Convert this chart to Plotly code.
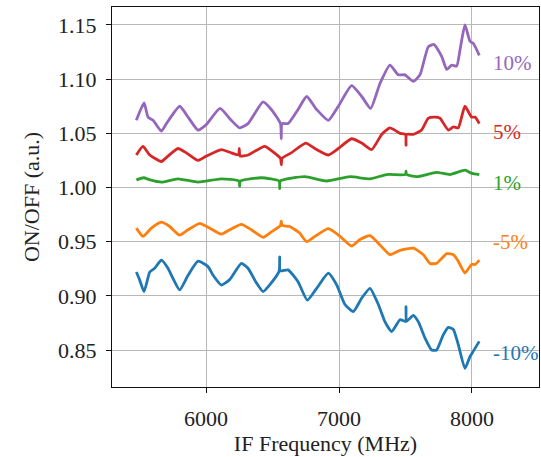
import plotly.graph_objects as go

# IF frequency (MHz) and ON/OFF ratio for each modulation level
freq_p10 = [5476, 5534, 5564, 5602, 5664, 5702, 5802, 5865, 5940, 6002, 6105, 6190,
            6253, 6316, 6429, 6491, 6560, 6566, 6572, 6617, 6692, 6757, 6832, 6920,
            6995, 7095, 7171, 7238, 7308, 7383, 7446, 7496, 7559, 7609, 7672, 7714,
            7772, 7810, 7847, 7885, 7910, 7947, 7985, 8010, 8055]
onoff_p10 = [1.062, 1.078, 1.065, 1.062, 1.052, 1.059, 1.075, 1.065, 1.053, 1.058, 1.073, 1.062,
             1.055, 1.059, 1.079, 1.072, 1.059, 1.045, 1.059, 1.059, 1.072, 1.084, 1.072, 1.062,
             1.075, 1.094, 1.084, 1.073, 1.096, 1.113, 1.104, 1.104, 1.098, 1.104, 1.130, 1.132,
             1.121, 1.109, 1.113, 1.112, 1.127, 1.150, 1.135, 1.133, 1.122]

freq_p5 = [5476, 5526, 5577, 5664, 5714, 5789, 5852, 5940, 6002, 6115, 6190, 6245,
           6250, 6256, 6316, 6441, 6504, 6560, 6566, 6572, 6641, 6750, 6832, 6920,
           6995, 7095, 7171, 7246, 7321, 7383, 7459, 7500, 7504, 7508, 7559, 7621,
           7672, 7722, 7759, 7822, 7860, 7897, 7947, 7997, 8023, 8055]
onoff_p5 = [1.030, 1.038, 1.030, 1.024, 1.029, 1.036, 1.032, 1.025, 1.029, 1.035, 1.032, 1.030,
            1.036, 1.029, 1.030, 1.038, 1.033, 1.027, 1.021, 1.027, 1.032, 1.041, 1.035, 1.030,
            1.036, 1.045, 1.041, 1.035, 1.049, 1.055, 1.050, 1.049, 1.039, 1.049, 1.049, 1.053,
            1.064, 1.065, 1.064, 1.053, 1.056, 1.055, 1.075, 1.065, 1.065, 1.059]

freq_p1 = [5476, 5530, 5580, 5664, 5789, 5940, 6115, 6248, 6253, 6258, 6416, 6550,
           6554, 6558, 6742, 6907, 7083, 7233, 7359, 7500, 7504, 7508, 7584, 7734,
           7835, 7947, 8000, 8055]
onoff_p1 = [1.007, 1.009, 1.007, 1.005, 1.008, 1.005, 1.008, 1.006, 1.001, 1.006, 1.009, 1.006,
            0.999, 1.006, 1.010, 1.006, 1.010, 1.008, 1.012, 1.012, 1.015, 1.012, 1.010, 1.014,
            1.012, 1.016, 1.013, 1.012]

freq_m5 = [5476, 5526, 5589, 5664, 5727, 5802, 5865, 5953, 6028, 6115, 6178, 6266,
           6341, 6429, 6491, 6560, 6566, 6572, 6629, 6704, 6757, 6832, 6920, 7008,
           7095, 7158, 7233, 7308, 7383, 7459, 7559, 7634, 7684, 7734, 7810, 7860,
           7897, 7947, 7997, 8023, 8055]
onoff_m5 = [0.9625, 0.955, 0.9625, 0.968, 0.964, 0.956, 0.961, 0.967, 0.9625, 0.957, 0.961, 0.966,
            0.961, 0.954, 0.959, 0.965, 0.969, 0.965, 0.964, 0.958, 0.950, 0.956, 0.962, 0.955,
            0.946, 0.952, 0.9556, 0.947, 0.938, 0.942, 0.944, 0.938, 0.930, 0.930, 0.939, 0.938,
            0.932, 0.921, 0.929, 0.929, 0.933]

freq_m10 = [5476, 5500, 5534, 5577, 5614, 5664, 5714, 5752, 5802, 5865, 5940, 6015,
            6053, 6115, 6178, 6266, 6316, 6379, 6429, 6491, 6550, 6554, 6558, 6617,
            6692, 6762, 6832, 6920, 6983, 7045, 7108, 7171, 7233, 7296, 7346, 7396,
            7459, 7500, 7504, 7508, 7559, 7597, 7647, 7697, 7734, 7784, 7822, 7860,
            7897, 7947, 7985, 8010, 8055]
onoff_m10 = [0.922, 0.915, 0.904, 0.922, 0.9255, 0.933, 0.9255, 0.916, 0.9055, 0.919, 0.932, 0.927,
             0.919, 0.910, 0.915, 0.930, 0.9255, 0.912, 0.904, 0.912, 0.923, 0.936, 0.923, 0.924,
             0.913, 0.896, 0.907, 0.921, 0.910, 0.892, 0.8855, 0.898, 0.907, 0.892, 0.876, 0.867,
             0.878, 0.8765, 0.890, 0.8765, 0.882, 0.876, 0.861, 0.850, 0.850, 0.864, 0.871, 0.869,
             0.855, 0.833, 0.844, 0.849, 0.858]

labels = ["10%", "5%", "1%", "-5%", "-10%"]
label_y = [1.115, 1.051, 1.004, 0.950, 0.847]
colors = ["#9467bd", "#d62728", "#2ca02c", "#ff7f0e", "#1f77b4"]

series = [(freq_p10, onoff_p10), (freq_p5, onoff_p5), (freq_p1, onoff_p1),
          (freq_m5, onoff_m5), (freq_m10, onoff_m10)]

FONT = "Liberation Serif, DejaVu Serif, serif"
TXT = "#222222"

fig = go.Figure()
for (fx, fy), name, c in zip(series, labels, colors):
    fig.add_trace(go.Scatter(
        x=fx, y=fy, mode="lines", name=name,
        line=dict(color=c, width=2.8, shape="spline", smoothing=0.5),
        showlegend=False,
    ))

for name, ly, c in zip(labels, label_y, colors):
    fig.add_annotation(x=8140, y=ly, text=name, showarrow=False,
                       xanchor="left", yanchor="middle",
                       font=dict(family=FONT, size=21, color=c))

axis_common = dict(
    showline=True, linecolor="#111111", linewidth=1.3, mirror=True,
    showgrid=True, gridcolor="#b8b8b8", gridwidth=1,
    ticks="outside", ticklen=5, tickcolor="#111111", tickwidth=1.2,
    zeroline=False,
    tickfont=dict(family=FONT, size=22, color=TXT),
)

fig.update_xaxes(
    range=[5293, 8504], tickvals=[6000, 7000, 8000], ticktext=["6000", "7000", "8000"],
    ticklabelstandoff=6,
    title=dict(text="IF Frequency (MHz)", font=dict(family=FONT, size=22, color=TXT), standoff=4),
    **axis_common,
)
fig.update_yaxes(
    range=[0.8159, 1.1666], tick0=0.85, dtick=0.05, tickformat=".2f",
    ticklabelstandoff=5,
    title=dict(text="ON/OFF (a.u.)", font=dict(family=FONT, size=22, color=TXT), standoff=12),
    **axis_common,
)

fig.update_layout(
    width=541, height=457,
    margin=dict(l=112, r=2, t=7, b=70, autoexpand=False),
    plot_bgcolor="white", paper_bgcolor="white",
    font=dict(family=FONT),
)

fig.write_html("out.html")
